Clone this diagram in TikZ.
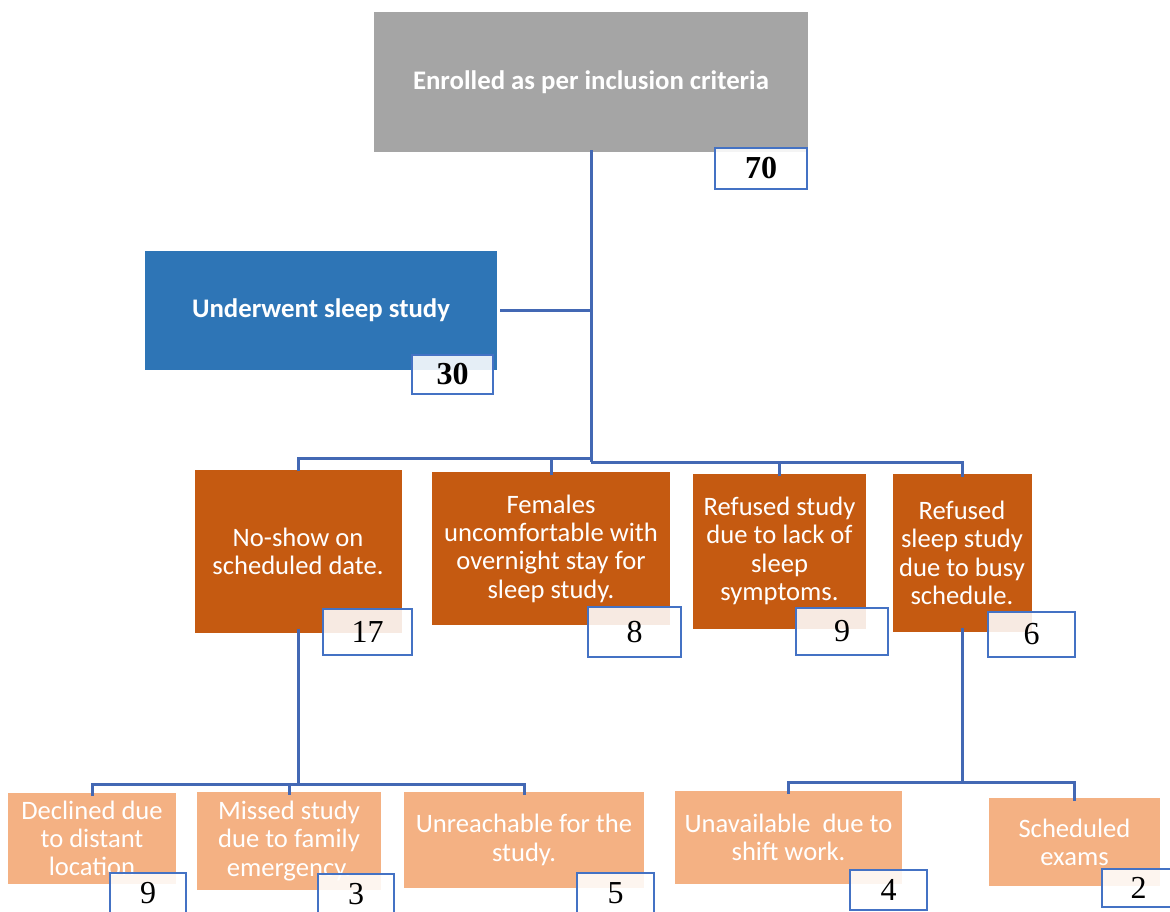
\documentclass[tikz,border=0pt]{standalone}
\usepackage{fontspec}
\setmainfont{Carlito}
\newfontfamily\numfont{Liberation Serif}
\definecolor{graybox}{HTML}{A5A5A5}
\definecolor{bluebox}{HTML}{2E75B6}
\definecolor{orangebox}{HTML}{C55A11}
\definecolor{lightorange}{HTML}{F4B183}
\definecolor{lineblue}{HTML}{4368B4}
\definecolor{numblue}{HTML}{4472C4}
\tikzset{
  box/.style={rectangle, inner sep=0pt, text=white, align=center,
    font=\fontsize{26.6}{28.3}\selectfont},
  boldbox/.style={box, font=\fontsize{26.8}{28}\selectfont\bfseries},
  numbox/.style={rectangle, inner sep=0pt, draw=numblue, line width=2.3pt,
    fill=white, fill opacity=0.88, text opacity=1, text=black,
    font=\numfont\fontsize{32}{32}\selectfont},
  conn/.style={draw=lineblue, line width=3pt}
}
\begin{document}
\begin{tikzpicture}[x=1pt,y=-1pt]
\useasboundingbox (0,0) rectangle (1170,911);
\clip (0,0) rectangle (1170,911);
% main boxes
\node[boldbox, fill=graybox, minimum width=434pt, minimum height=140pt] (top) at (591,82) {Enrolled as per inclusion criteria};
\node[boldbox, fill=bluebox, minimum width=352pt, minimum height=119pt] (under) at (321,310.5) {Underwent sleep study};
\node[box, fill=orangebox, minimum width=207pt, minimum height=163pt] (b1) at (298,551.5) {No-show on\\scheduled date.};
\node[box, fill=orangebox, minimum width=238pt, minimum height=153pt] (b2) at (551,548.5) {Females\\uncomfortable with\\overnight stay for\\sleep study.};
\node[box, fill=orangebox, minimum width=173pt, minimum height=155pt] (b3) at (779.5,551) {Refused study\\due to lack of\\sleep\\symptoms.};
\node[box, fill=orangebox, minimum width=139pt, minimum height=158pt] (b4) at (962,553) {Refused\\sleep study\\due to busy\\schedule.};
\node[box, fill=lightorange, minimum width=168pt, minimum height=91pt] (c1) at (92,838.5) {Declined due\\to distant\\location};
\node[box, fill=lightorange, minimum width=184pt, minimum height=98pt] (c2) at (289,841) {Missed study\\due to family\\emergency.};
\node[box, fill=lightorange, minimum width=240pt, minimum height=96pt] (c3) at (524,840) {Unreachable for the\\study.};
\node[box, fill=lightorange, minimum width=227pt, minimum height=93pt] (c4) at (788.5,837.5) {Unavailable~ due to\\shift work.};
\node[box, fill=lightorange, minimum width=171pt, minimum height=88pt] (c5) at (1074.5,842) {Scheduled\\exams};
% number boxes
\node[numbox, minimum width=92pt, minimum height=41pt, font=\numfont\fontsize{32}{32}\selectfont\bfseries] (n70) at (761,168.5) {70};
\node[numbox, minimum width=81pt, minimum height=39pt, font=\numfont\fontsize{32}{32}\selectfont\bfseries] (n30) at (452.5,374.5) {30};
\node[numbox, minimum width=89pt, minimum height=46pt] (n17) at (367.5,632) {17};
\node[numbox, minimum width=93pt, minimum height=50pt] (n8) at (634.5,632) {8};
\node[numbox, minimum width=92pt, minimum height=47pt] (n9a) at (842,631.5) {9};
\node[numbox, minimum width=87pt, minimum height=45pt] (n6) at (1031.5,634.5) {6};
\node[numbox, minimum width=76pt, minimum height=40pt] (n9b) at (148,893) {9};
\node[numbox, minimum width=76pt, minimum height=40pt] (n3) at (356,894) {3};
\node[numbox, minimum width=77pt, minimum height=40pt] (n5) at (615.5,893) {5};
\node[numbox, minimum width=77pt, minimum height=40pt] (n4) at (888.5,890) {4};
\node[numbox, minimum width=73pt, minimum height=38pt] (n2) at (1138.5,888) {2};
% junctions
\coordinate (jL) at (591,458);
\coordinate (jR) at (591,462);
\coordinate (jB) at (298,784);
\coordinate (jS) at (962,782);
% connectors
\draw[conn] ([yshift=2pt]top.south) -- (jR);
\draw[conn] ([xshift=3pt]under.east) -- (under.east -| top.south);
\draw[conn] ([yshift=-1pt]b1.north) |- (jL);
\draw[conn] ([yshift=-3pt]b2.north) |- (jL) -- (jR);
\draw[conn] ([yshift=-3pt]b3.north) |- (jR);
\draw[conn] ([yshift=-3pt]b4.north) |- (jR);
\draw[conn] ([yshift=4pt]b1.south) -- (jB);
\draw[conn] ([yshift=-3pt]c1.north) |- (jB);
\draw[conn] ([yshift=-3pt]c2.north) |- (jB);
\draw[conn] ([yshift=-3pt]c3.north) |- (jB);
\draw[conn] ([yshift=4pt]b4.south) -- (jS);
\draw[conn] ([yshift=-3pt]c4.north) |- (jS);
\draw[conn] ([yshift=-3pt]c5.north) |- (jS);
\end{tikzpicture}
\end{document}
